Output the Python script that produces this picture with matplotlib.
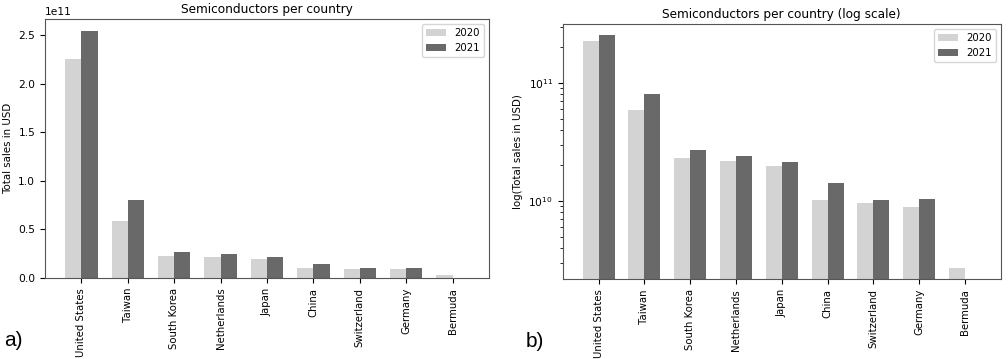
import matplotlib
matplotlib.use('Agg')
import matplotlib.pyplot as plt
import numpy as np

countries = ['United States', 'Taiwan', 'South Korea', 'Netherlands', 'Japan',
             'China', 'Switzerland', 'Germany', 'Bermuda']
sales_2020 = [2.26e11, 5.9e10, 2.3e10, 2.2e10, 1.97e10, 1.02e10, 9.7e9, 8.9e9, 2.7e9]
sales_2021 = [2.54e11, 8.05e10, 2.68e10, 2.43e10, 2.13e10, 1.43e10, 1.01e10, 1.05e10, 0]
years = ['2020', '2021']
colors = ['lightgray', 'dimgray']

fig = plt.figure(figsize=(10.08, 3.59), dpi=100)
ax1 = fig.add_axes([0.0446, 0.2256, 0.4405, 0.7214])
ax2 = fig.add_axes([0.5582, 0.2220, 0.4348, 0.7110])

x = np.arange(len(countries))
w = 0.35
fs = 7.3


def draw(ax, title, ylabel, log=False):
    ax.bar(x - w / 2, sales_2020, w, color=colors[0], label=years[0])
    ax.bar(x + w / 2, sales_2021, w, color=colors[1], label=years[1])
    if log:
        ax.set_yscale('log')
        ax.set_ylim(2.17e9, 3.16e11)
    ax.set_xticks(x)
    ax.set_xticklabels(countries, rotation=90, fontsize=fs)
    ax.tick_params(axis='y', labelsize=fs + 0.4)
    ax.yaxis.get_offset_text().set_fontsize(fs + 0.4)
    ax.set_title(title, fontsize=8.7, pad=4)
    ax.set_ylabel(ylabel, fontsize=7.4)
    ax.legend(fontsize=fs, loc='upper right')
    for s in ax.spines.values():
        s.set_color('#555555')


draw(ax1, 'Semiconductors per country', 'Total sales in USD')
draw(ax2, 'Semiconductors per country (log scale)', 'log(Total sales in USD)', log=True)

fig.text(0.004, 0.035, 'a)', fontsize=15, family='Liberation Sans')
fig.text(0.522, 0.033, 'b)', fontsize=15, family='Liberation Sans')

fig.savefig('out.png', dpi=100)
